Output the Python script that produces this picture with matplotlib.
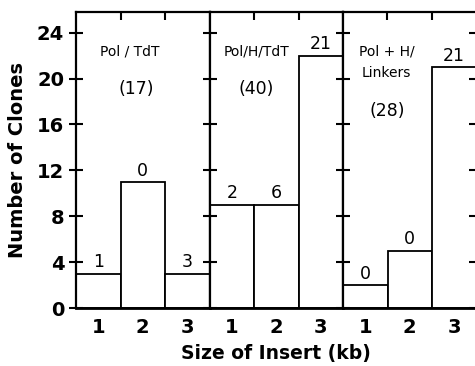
"""Insert size distribution of clones for three library construction methods."""

import matplotlib

matplotlib.use("Agg")
import matplotlib.pyplot as plt

# data
insert_sizes = [1, 2, 3]
methods = ["Pol / TdT", "Pol/H/TdT", "Pol + H/\nLinkers"]
method_totals = ["(17)", "(40)", "(28)"]
clone_counts = [
    [3, 11, 3],
    [9, 9, 22],
    [2, 5, 21],
]
bar_labels = [
    ["1", "0", "3"],
    ["2", "6", "21"],
    ["0", "0", "21"],
]
y_ticks = [0, 4, 8, 12, 16, 20, 24]

# text placement inside each panel (data coords)
name_pos = [(1.7, 22.4), (1.55, 22.4), (1.48, 21.4)]
total_pos = [(1.86, 19.1), (1.55, 19.1), (1.5, 17.2)]

W, H = 475, 366
fig = plt.figure(figsize=(W / 100, H / 100), dpi=100)

left_px = 76
panel_px = 133.5
bottom = (H - 308) / H
height = 296 / H

for i in range(3):
    ax = fig.add_axes([(left_px + i * panel_px) / W, bottom, panel_px / W, height])
    ax.bar(insert_sizes, clone_counts[i], width=1.0, color="white",
           edgecolor="black", linewidth=1.3)
    for x, v, lab in zip(insert_sizes, clone_counts[i], bar_labels[i]):
        ax.text(x, v + 0.2, lab, ha="center", va="bottom", fontsize=12.5)
    ax.text(*name_pos[i], methods[i], ha="center", va="center", fontsize=10,
            linespacing=1.7)
    ax.text(*total_pos[i], method_totals[i], ha="center", va="center", fontsize=12.5)

    ax.set_xlim(0.5, 3.5)
    ax.set_ylim(0, 25.8)
    for sp in ax.spines.values():
        sp.set_linewidth(1.6)
    ax.spines["bottom"].set_linewidth(2.0)

    ax.set_xticks(insert_sizes)
    ax.set_xticklabels([str(s) for s in insert_sizes], fontsize=14, fontweight="bold")
    ax.tick_params(axis="x", length=0, pad=7)
    # small ticks on top at bar boundaries
    sec = ax.secondary_xaxis("top")
    sec.set_xticks([1.5, 2.5])
    sec.set_xticklabels([])
    sec.tick_params(direction="in", length=6, width=1.5)
    sec.spines["top"].set_visible(False)

    ax.set_yticks(y_ticks)
    ax.tick_params(axis="y", direction="inout", length=10, width=1.5,
                   right=(i == 2))
    if i == 0:
        ax.set_yticklabels([str(t) for t in y_ticks], fontsize=14, fontweight="bold")
        ax.set_ylabel("Number of Clones", fontsize=14, fontweight="bold", labelpad=7)
    else:
        ax.set_yticklabels([])
    if i == 1:
        ax.set_xlabel("Size of Insert (kb)", fontsize=13.5, fontweight="bold",
                      labelpad=5)

fig.savefig("out.png", dpi=100)
